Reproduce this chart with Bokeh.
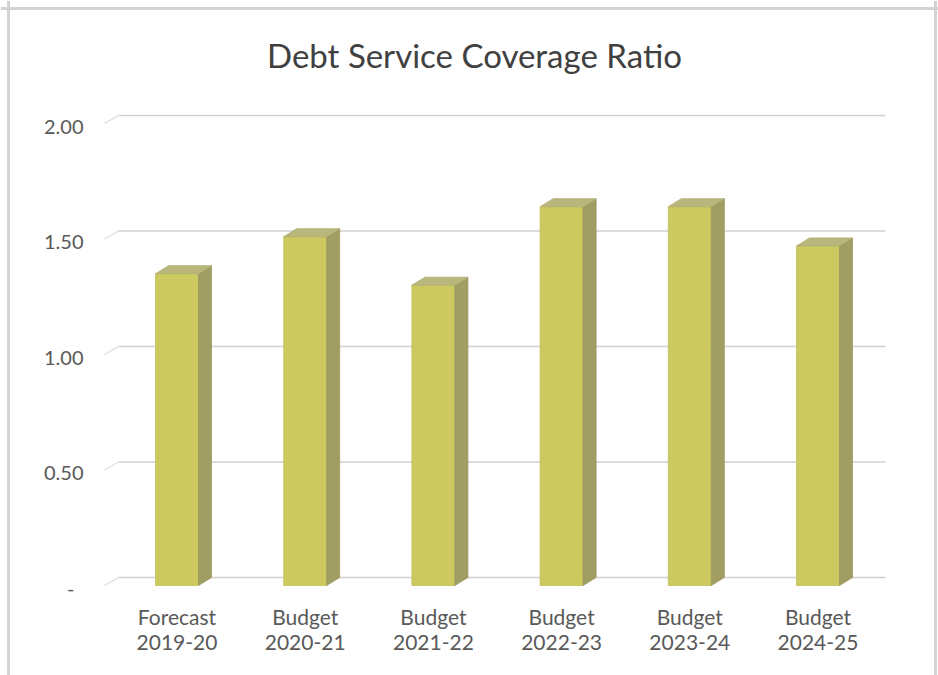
from bokeh.plotting import figure
from bokeh.models import Range1d, Span, ColumnDataSource
from bokeh.core.properties import value
from bokeh.embed import file_html
from bokeh.resources import INLINE

# ---------------- data ----------------
title_text = "Debt Service Coverage Ratio"
cat_line1 = ["Forecast", "Budget", "Budget", "Budget", "Budget", "Budget"]
cat_line2 = ["2019-20", "2020-21", "2021-22", "2022-23", "2023-24", "2024-25"]
dscr = [1.35, 1.51, 1.30, 1.64, 1.64, 1.47]
y_ticks = [0.0, 0.5, 1.0, 1.5, 2.0]
y_tick_labels = ["-", "0.50", "1.00", "1.50", "2.00"]

# ---------------- layout (pixels) ----------------
W, H = 938, 675
X0_PX, X_STEP = 176.5, 128.2      # pixel of first category centre, spacing
Y0_PX, Y_UNIT = 577.0, 231.0      # pixel of value 0 on back wall, px per unit
BAR_W_PX, DX_PX, DY_PX = 43.0, 13.0, 8.0

def sx(px):
    return (px - X0_PX) / X_STEP

def sy(py):
    return (Y0_PX - py) / Y_UNIT

bw = BAR_W_PX / X_STEP
ddx = DX_PX / X_STEP
ddy = DY_PX / Y_UNIT

p = figure(width=W, height=H, x_range=Range1d(sx(0), sx(W)), y_range=Range1d(sy(H), sy(0)),
           min_border=0, toolbar_location=None, output_backend="svg")
p.axis.visible = False
p.grid.visible = False
p.outline_line_color = None
p.background_fill_color = "white"
p.border_fill_color = "white"

# chart border (left, top, right)
for loc, dim in [(sx(8), "height"), (sx(935), "height")]:
    p.add_layout(Span(location=loc, dimension=dim, line_color="#d3d3d3", line_width=3))
p.add_layout(Span(location=sy(8), dimension="width", line_color="#d3d3d3", line_width=3))

# gridlines on back wall + small side-wall diagonal
n = len(y_ticks)
p.segment(x0=[sx(118)] * n, y0=y_ticks, x1=[sx(885)] * n, y1=y_ticks,
          line_color="#d0d0d0", line_width=1.5)
p.segment(x0=[sx(104)] * n, y0=[t - ddy for t in y_ticks], x1=[sx(118)] * n, y1=y_ticks,
          line_color="#dcdcdc", line_width=1.2)

# 3D columns
idx = list(range(len(dscr)))
front = ColumnDataSource(dict(x=idx, top=[v - ddy for v in dscr], bottom=[-ddy] * len(dscr)))
p.vbar(x="x", top="top", bottom="bottom", width=bw, source=front,
       fill_color="#cbc95f", line_color="#c2c05a", line_width=0.8)

side_xs, side_ys, top_xs, top_ys = [], [], [], []
for i, v in zip(idx, dscr):
    r = i + bw / 2
    l = i - bw / 2
    side_xs.append([r, r + ddx, r + ddx, r])
    side_ys.append([-ddy, 0, v, v - ddy])
    top_xs.append([l, r, r + ddx, l + ddx])
    top_ys.append([v - ddy, v - ddy, v, v])
p.patches(side_xs, side_ys, fill_color="#a09e62", line_color="#999760", line_width=0.8)
p.patches(top_xs, top_ys, fill_color="#b9b77c", line_color="#b0ae72", line_width=0.8)

# y tick labels
lab_off = 11.0 / Y_UNIT
p.text(x=[sx(83)] * (n - 1), y=[t - lab_off for t in y_ticks[1:]], text=y_tick_labels[1:],
       text_font=value("Lato"), text_font_size="20px", text_color="#595959",
       text_align="right", text_baseline="middle")
p.text(x=[sx(74)], y=[y_ticks[0] - lab_off], text=[y_tick_labels[0]],
       text_font=value("Lato"), text_font_size="20px", text_color="#595959",
       text_align="right", text_baseline="middle")

# x category labels (two lines)
p.text(x=idx, y=[sy(616)] * len(idx), text=cat_line1,
       text_font=value("Lato"), text_font_size="21px", text_color="#595959",
       text_align="center", text_baseline="middle")
p.text(x=idx, y=[sy(642)] * len(idx), text=cat_line2,
       text_font=value("Lato"), text_font_size="21px", text_color="#595959",
       text_align="center", text_baseline="middle")

# title
p.text(x=[sx(474)], y=[sy(54)], text=[title_text],
       text_font=value("Lato"), text_font_size="33px", text_color="#404040",
       text_align="center", text_baseline="middle")

open("out.html", "w").write(file_html(p, INLINE))
